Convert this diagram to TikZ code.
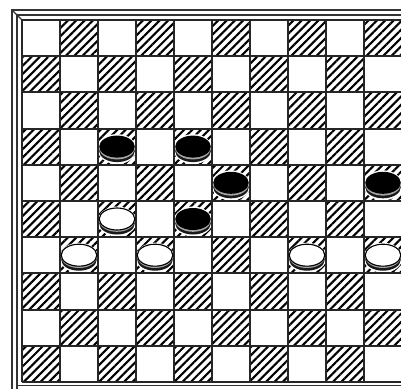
\documentclass[tikz,border=0pt]{standalone}
\usetikzlibrary{patterns.meta}
\tikzset{
  sqhatch/.style={pattern={Lines[angle=45,distance=4.2pt,line width=1.5pt]}},
  gridln/.style={line width=1.3pt,black!85},
  frameln/.style={line width=0.9pt,black!80},
  halo/.style={fill=white},
  rim/.style={fill=black!90},
  band/.style={fill=black!35},
  blackman/.style={fill=black},
  whiteman/.style={fill=white,draw=black,line width=0.8pt},
}
\begin{document}
\begin{tikzpicture}[x=0.025cm,y=0.025cm]
  \useasboundingbox (0,0) rectangle (401,389);
  \fill[white] (0,0) rectangle (401,389);
  % dark squares
  \foreach \r in {0,...,9}
    \foreach \c in {0,...,9}{
      \pgfmathtruncatemacro\odd{mod(\r+\c,2)}
      \ifnum\odd=1
        \fill[sqhatch] ({22+38*\c},{369-36.2*\r}) rectangle ++(38,-36.2);
      \fi
    }
  % clear round the men
  \foreach \c/\r in {2/3,4/3,5/4,9/4,4/5,2/5,1/6,3/6,7/6,9/6}
    \fill[halo] ({41+38*\c},{348.5-36.2*\r}) ellipse [x radius=19.5, y radius=15];
  % grid
  \foreach \i in {0,...,10}{
    \draw[gridln] ({22+38*\i},7) -- ({22+38*\i},369);
    \draw[gridln] (22,{369-36.2*\i}) -- (402,{369-36.2*\i});
  }
  % frame
  \draw[frameln] (12,0) -- (12,379) -- (401,379);
  \draw[frameln] (17,0) -- (17,374) -- (401,374);
  \draw[frameln] (12,379) -- (22,369);
  \draw[frameln] (17,3.5) -- (401,3.5);
  % men
  \foreach \c/\r/\man in {2/3/blackman,4/3/blackman,5/4/blackman,9/4/blackman,
      4/5/blackman,2/5/whiteman,1/6/whiteman,3/6/whiteman,7/6/whiteman,9/6/whiteman}{
    \pgfmathsetmacro\mx{41+38*\c}
    \pgfmathsetmacro\my{351-36.2*\r}
    \fill[rim] (\mx,{\my-4.5}) ellipse [x radius=17.8, y radius=11];
    \fill[band] (\mx,{\my-2}) ellipse [x radius=17.6, y radius=10.8];
    \path[\man] (\mx,\my) ellipse [x radius=17.8, y radius=11];
  }
\end{tikzpicture}
\end{document}
